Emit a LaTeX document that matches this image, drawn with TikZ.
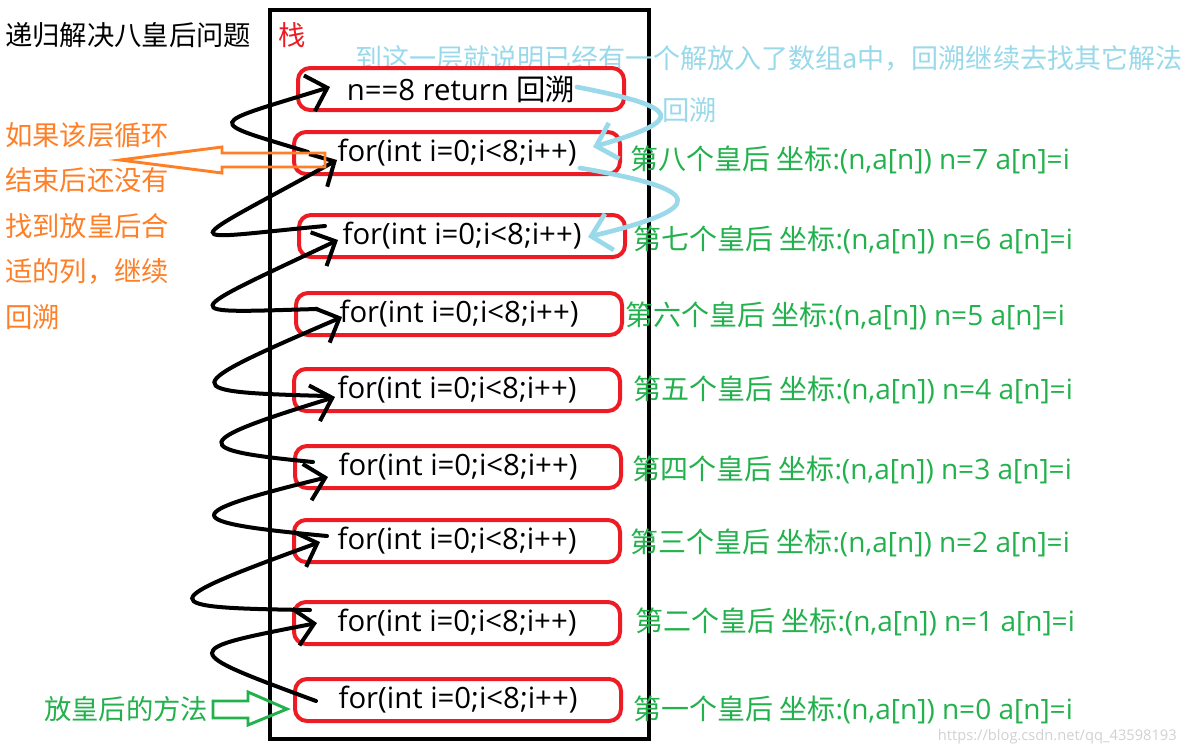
\documentclass[tikz,border=0pt]{standalone}
\usepackage{fontspec}
\setmainfont{Open Sans}
\newfontfamily\cjk{Noto Sans CJK SC}
\usepackage{tikz}
\usetikzlibrary{arrows.meta}
\definecolor{pRed}{HTML}{ED1C24}
\definecolor{pOrange}{HTML}{FF7F27}
\definecolor{pGreen}{HTML}{22B14C}
\definecolor{pBlue}{HTML}{99D9EA}

\begin{document}
\begin{tikzpicture}[x=0.75pt, y=-0.75pt,
    txt/.style={anchor=west, inner sep=0pt, font=\fontsize{20.5}{24}\selectfont},
    qlbl/.style={txt, text=pGreen, font=\fontsize{21}{24}\selectfont},
    frame/.style={draw=pRed, line width=3pt, rounded corners=9pt, outer sep=0pt,
      minimum width=244.5pt, minimum height=31.5pt, inner sep=0pt,
      font=\fontsize{22}{24}\selectfont},
    zig/.style={line width=3pt, line cap=round,
      -{Straight Barb[length=14pt,width=28pt]}},
    undo/.style={draw=pBlue, line width=3.5pt, line cap=round,
      -{Straight Barb[length=14pt,width=28pt]}},
    hollow/.style={line width=2.2pt, line join=miter}
  ]
    \useasboundingbox (0,0) rectangle (1186,751);
    \node[draw, line width=3pt, outer sep=0pt, minimum width=284.25pt,
      minimum height=546.75pt] (stack) at (459.5,374.5) {};
    \node[txt] (title) at (5,35) {\cjk 递归解决八皇后问题};
    \node[txt, text=pRed] (stacklbl) at (278,35) {\cjk 栈};
    \node[txt, text=pBlue, font=\fontsize{20.3}{24}\selectfont] (note) at (355,58)
      {\cjk 到这一层就说明已经有一个解放入了数组a中，回溯继续去找其它解法};
    \node[txt, text=pBlue] (back) at (662,110) {\cjk 回溯};
    \node[txt, text=pOrange, align=left, font=\cjk\fontsize{20.5}{34.1}\selectfont]
      (fail) at (5,226) {如果该层循环\\结束后还没有\\找到放皇后合\\适的列，继续\\回溯};
    \node[txt, text=pGreen] (put) at (44,709) {\cjk 放皇后的方法};
    % the stack frames
    \node[frame] (b1) at (461,89) {n==8 return {\cjk 回溯}};
    \node[frame] (b2) at (457,153) {for(int i=0;i<8;i++)};
    \node[frame] (b3) at (462,236) {for(int i=0;i<8;i++)};
    \node[frame] (b4) at (459,314) {for(int i=0;i<8;i++)};
    \node[frame] (b5) at (457,390) {for(int i=0;i<8;i++)};
    \node[frame] (b6) at (458,467) {for(int i=0;i<8;i++)};
    \node[frame] (b7) at (457,541) {for(int i=0;i<8;i++)};
    \node[frame] (b8) at (457,623) {for(int i=0;i<8;i++)};
    \node[frame] (b9) at (458,700) {for(int i=0;i<8;i++)};
    % queen labels
    \node[qlbl] (q8) at (630,160) {{\cjk 第八个皇后 坐标}:(n,a[n]) n=7 a[n]=i};
    \node[qlbl] (q7) at (633,240) {{\cjk 第七个皇后 坐标}:(n,a[n]) n=6 a[n]=i};
    \node[qlbl] (q6) at (625,316) {{\cjk 第六个皇后 坐标}:(n,a[n]) n=5 a[n]=i};
    \node[qlbl] (q5) at (633,390) {{\cjk 第五个皇后 坐标}:(n,a[n]) n=4 a[n]=i};
    \node[qlbl] (q4) at (632,470) {{\cjk 第四个皇后 坐标}:(n,a[n]) n=3 a[n]=i};
    \node[qlbl] (q3) at (630,543) {{\cjk 第三个皇后 坐标}:(n,a[n]) n=2 a[n]=i};
    \node[qlbl] (q2) at (635,622) {{\cjk 第二个皇后 坐标}:(n,a[n]) n=1 a[n]=i};
    \node[qlbl] (q1) at (633,710) {{\cjk 第一个皇后 坐标}:(n,a[n]) n=0 a[n]=i};
    \node[anchor=east, inner sep=0pt, text=black!18, font=\fontsize{11}{13}\selectfont]
      (mark) at (1177,737) {https://blog.csdn.net/qq\_43598193};
    % recursion going up
    \draw[zig] ([shift={(21,1)}]b9.west) .. controls +(-138,-51) and +(-139,27) .. ([shift={(23,0)}]b8.west);
    \draw[zig] ([shift={(16,-13)}]b8.west) .. controls +(-158,-2) and +(-168,61) .. ([shift={(26,1)}]b7.west);
    \draw[zig] ([shift={(33,-5)}]b7.west) .. controls +(-150,-14) and +(-151,37) .. ([shift={(33,10)}]b6.west);
    \draw[zig] ([shift={(18,-5)}]b6.west) .. controls +(-125,-12) and +(-147,45) .. ([shift={(41,7)}]b5.west);
    \draw[zig] ([shift={(33,6)}]b5.west) .. controls +(-152,-4) and +(-167,72) .. ([shift={(46,3)}]b4.west);
    \draw[zig] ([shift={(21,-5)}]b4.west) .. controls +(-142,4) and +(-163,77) .. ([shift={(39,4)}]b3.west);
    \draw[zig] ([shift={(26,-10)}]b3.west) .. controls +(-151,14) and +(-163,90) .. ([shift={(43,7)}]b2.west);
    \draw[zig] ([shift={(14,-1)}]b2.west) .. controls +(-104,-32) and +(-126,39) .. ([shift={(32,-2)}]b1.west);
    % backtracking
    \draw[undo] ([shift={(-47,-2)}]b1.east) .. controls +(108,21) and +(92,-27) .. ([shift={(-27,-6)}]b2.east);
    \draw[undo] ([shift={(-40,15)}]b2.east) .. controls +(128,22) and +(120,-29) .. ([shift={(-37,1)}]b3.east);
    % hollow arrows
    \draw[hollow, draw=pOrange] (325,153) -- (222,153) -- (222,147) -- (120,160)
      -- (222,173) -- (222,167) -- (325,167) -- cycle;
    \draw[hollow, draw=pGreen] (213,701) -- (248,701) -- (248,692) -- (287,709)
      -- (248,725) -- (248,718) -- (213,718) -- cycle;
\end{tikzpicture}
\end{document}
